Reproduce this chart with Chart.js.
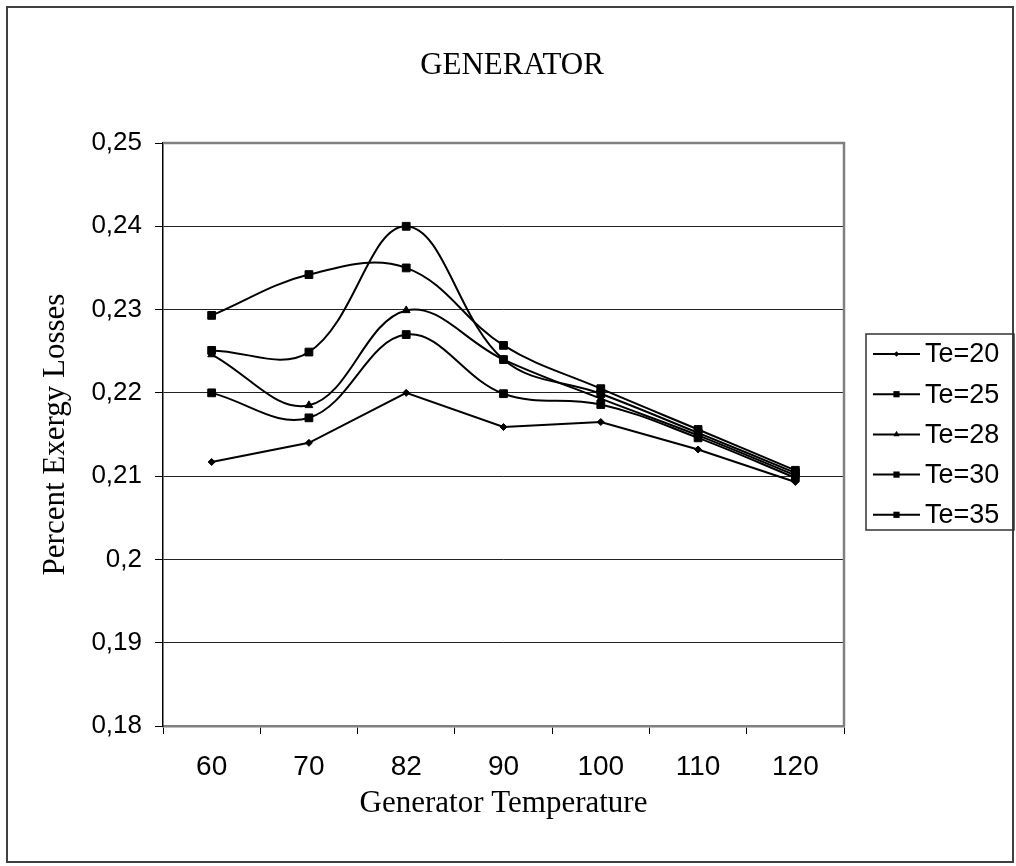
<!DOCTYPE html>
<html lang="en">
<head>
<meta charset="UTF-8">
<title>Generator</title>
<script src="https://cdn.jsdelivr.net/npm/chart.js"></script>
<style>
  html, body { margin: 0; padding: 0; background: #fff; }
  #chart { display: block; }
</style>
</head>
<body>
<canvas id="chart" width="1016" height="866"></canvas>
<script>
// data
const categories = ['60', '70', '82', '90', '100', '110', '120'];
const seriesLabels = ['Te=20', 'Te=25', 'Te=28', 'Te=30', 'Te=35'];
const te20 = [0.2117, 0.2140, 0.2200, 0.2159, 0.2165, 0.2132, 0.2093];
const te25 = [0.2200, 0.2170, 0.2270, 0.2199, 0.2186, 0.2146, 0.2098];
const te28 = [0.2246, 0.2185, 0.2299, 0.2240, 0.2193, 0.2149, 0.2101];
const te30 = [0.2251, 0.2249, 0.2400, 0.2240, 0.2199, 0.2152, 0.2104];
const te35 = [0.2293, 0.2342, 0.2350, 0.2257, 0.2205, 0.2156, 0.2107];
const yTicks = [0.18, 0.19, 0.20, 0.21, 0.22, 0.23, 0.24, 0.25];

const chartTitle = 'GENERATOR';
const xTitle = 'Generator Temperature';
const yTitle = 'Percent Exergy Losses';

const serif = 'Liberation Serif, Times New Roman, serif';
const sans = 'Liberation Sans, Arial, sans-serif';

function makeSet(label, data, style, radius, tension) {
    return {
        label: label,
        data: data,
        borderColor: '#000',
        backgroundColor: '#000',
        borderWidth: 2,
        pointStyle: style,
        pointRadius: radius,
        pointBackgroundColor: '#000',
        pointBorderColor: '#000',
        pointBorderWidth: 1,
        tension: tension
    };
}

const datasets = [
    makeSet(seriesLabels[0], te20, 'rectRot', 3.5, 0),
    makeSet(seriesLabels[1], te25, 'rect', 5.5, 0.38),
    makeSet(seriesLabels[2], te28, 'triangle', 4.5, 0.38),
    makeSet(seriesLabels[3], te30, 'rect', 5.5, 0.38),
    makeSet(seriesLabels[4], te35, 'rect', 5.5, 0.38)
];

// marker used in the legend samples
function drawMarker(ctx, style, r, x, y) {
    ctx.beginPath();
    if (style === 'rect') {
        const s = r * Math.SQRT1_2;
        ctx.rect(x - s, y - s, s * 2, s * 2);
    } else if (style === 'rectRot') {
        ctx.moveTo(x, y - r); ctx.lineTo(x + r, y); ctx.lineTo(x, y + r); ctx.lineTo(x - r, y);
        ctx.closePath();
    } else {
        ctx.moveTo(x, y - r); ctx.lineTo(x + r * 0.87, y + r * 0.5); ctx.lineTo(x - r * 0.87, y + r * 0.5);
        ctx.closePath();
    }
    ctx.fill();
}

const framePlugin = {
    id: 'frame',
    beforeDatasetsDraw(chart) {
        const {ctx, chartArea: a} = chart;
        ctx.save();
        ctx.strokeStyle = '#808080';
        ctx.lineWidth = 2.5;
        ctx.beginPath();
        ctx.moveTo(a.left, a.top);
        ctx.lineTo(a.right, a.top);
        ctx.lineTo(a.right, a.bottom);
        ctx.stroke();
        ctx.restore();
    },
    afterDraw(chart) {
        const ctx = chart.ctx;
        ctx.save();
        // outer border
        ctx.strokeStyle = '#404040';
        ctx.lineWidth = 2;
        ctx.strokeRect(7, 7, 1006, 855);

        // title
        ctx.fillStyle = '#000';
        ctx.font = '31px ' + serif;
        ctx.textAlign = 'center';
        ctx.textBaseline = 'alphabetic';
        ctx.fillText(chartTitle, 512, 74);

        // legend
        ctx.strokeStyle = '#333';
        ctx.lineWidth = 1.5;
        ctx.strokeRect(866, 334, 148, 196);
        ctx.font = '27px ' + sans;
        ctx.textAlign = 'left';
        ctx.textBaseline = 'middle';
        chart.data.datasets.forEach((ds, i) => {
            const y = 354 + i * 40.2;
            ctx.strokeStyle = '#000';
            ctx.lineWidth = 2;
            ctx.beginPath();
            ctx.moveTo(873, y);
            ctx.lineTo(920, y);
            ctx.stroke();
            ctx.fillStyle = '#000';
            drawMarker(ctx, ds.pointStyle, ds.pointRadius * 0.8, 896.5, y);
            ctx.fillText(ds.label, 925, y + 1);
        });
        ctx.restore();
    }
};

new Chart(document.getElementById('chart'), {
    type: 'line',
    data: { labels: categories, datasets: datasets },
    options: {
        responsive: false,
        devicePixelRatio: 1,
        animation: false,
        layout: { padding: { left: 0, top: 143, right: 172, bottom: 0 } },
        plugins: {
            legend: { display: false },
            title: { display: false },
            tooltip: { enabled: false }
        },
        scales: {
            x: {
                offset: true,
                grid: {
                    offset: true,
                    drawOnChartArea: false,
                    drawTicks: true,
                    tickLength: 8,
                    tickColor: '#000',
                    tickWidth: 1
                },
                border: { color: '#808080', width: 2.5 },
                ticks: {
                    color: '#000',
                    font: { family: sans, size: 28 },
                    padding: 16,
                    maxRotation: 0,
                    autoSkip: false
                },
                title: {
                    display: true,
                    text: xTitle,
                    color: '#000',
                    font: { family: serif, size: 31 },
                    padding: { top: 0, bottom: 44 }
                },
                afterFit(s) { s.height = 140; }
            },
            y: {
                min: yTicks[0],
                max: yTicks[yTicks.length - 1],
                afterBuildTicks(s) { s.ticks = yTicks.map(v => ({ value: v })); },
                grid: {
                    color: '#222',
                    lineWidth: 1,
                    drawTicks: true,
                    tickLength: 8,
                    tickColor: '#000'
                },
                border: { color: '#000', width: 1.5 },
                ticks: {
                    color: '#000',
                    font: { family: sans, size: 26 },
                    padding: 13,
                    callback: v => String(Number(v.toFixed(2))).replace('.', ',')
                },
                title: {
                    display: true,
                    text: yTitle,
                    color: '#000',
                    font: { family: serif, size: 31 },
                    padding: { top: 37, bottom: 0 }
                },
                afterFit(s) { s.width = 163; }
            }
        }
    },
    plugins: [framePlugin]
});
</script>
</body>
</html>
